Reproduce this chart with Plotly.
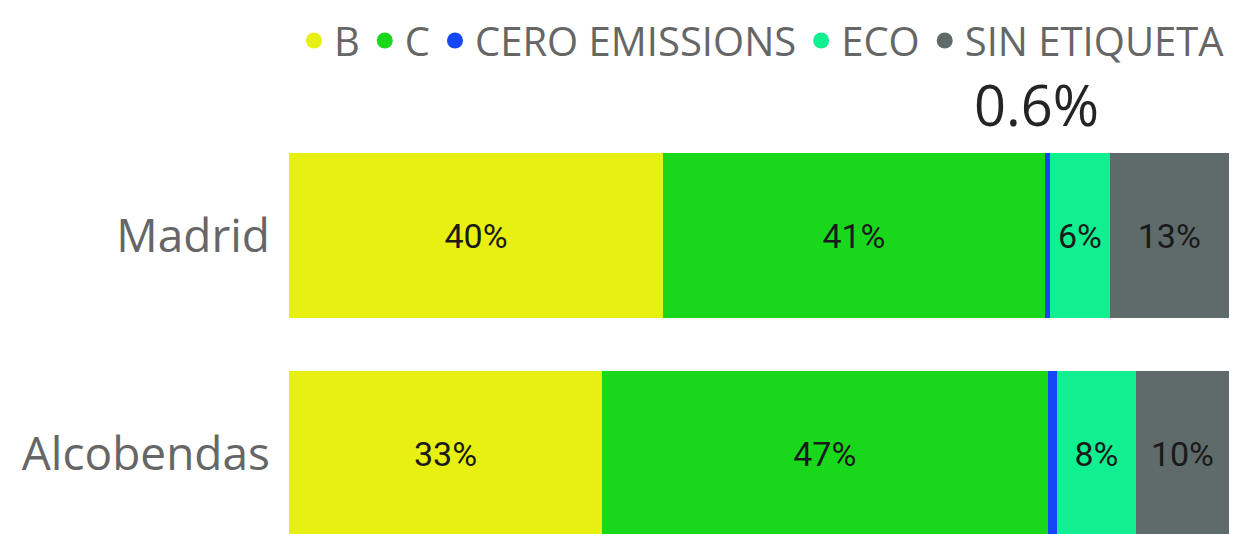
import plotly.graph_objects as go

cities = ["Alcobendas", "Madrid"]
series = ["B", "C", "CERO EMISSIONS", "ECO", "SIN ETIQUETA"]
colors = ["#E8F011", "#19D81C", "#1446F5", "#10F090", "#5F6A6A"]
values = {
    "B": [33.3, 39.8],
    "C": [47.4, 40.6],
    "CERO EMISSIONS": [1.0, 0.6],
    "ECO": [8.4, 6.3],
    "SIN ETIQUETA": [9.9, 12.7],
}
callout_city = "Madrid"
callout_series = "CERO EMISSIONS"

fig = go.Figure()
for s, c in zip(series, colors):
    vals = values[s]
    texts = ["" if s == "CERO EMISSIONS" else f"{round(v)}%" for v in vals]
    fig.add_trace(go.Bar(
        y=cities, x=vals, name=s, orientation="h",
        marker=dict(color=c, line=dict(width=0)),
        text=texts, textposition="inside", insidetextanchor="middle",
        textangle=0,
        textfont=dict(family="Roboto", size=34, color="#1a1a1a"),
        width=0.757, showlegend=False, hoverinfo="skip",
    ))
    fig.add_trace(go.Scatter(
        x=[None], y=[None], mode="markers", name=s,
        marker=dict(symbol="circle", size=18, color=c),
        showlegend=True,
    ))

idx = cities.index(callout_city)
before = sum(values[s][idx] for s in series[:series.index(callout_series)])
cx = before + values[callout_series][idx] / 2
fig.add_annotation(
    x=cx, y=callout_city, xref="x", yref="y",
    text=f"{values[callout_series][idx]}%", showarrow=False,
    xanchor="center", yanchor="bottom", yshift=92, xshift=-11,
    font=dict(family="Open Sans", size=56, color="#252423"),
)

# page body has an 8px default margin; compensate so the figure fills 1243x534
fig.update_layout(
    width=1235, height=526,
    margin=dict(l=281, r=14, t=132, b=0, autoexpand=False),
    barmode="stack",
    plot_bgcolor="white", paper_bgcolor="white",
    legend=dict(
        orientation="h", x=1.001, xanchor="right", y=1.335, yanchor="top",
        traceorder="normal",
        font=dict(family="Open Sans", size=40, color="#666666"),
        itemwidth=30, tracegroupgap=0, bgcolor="rgba(0,0,0,0)",
    ),
    xaxis=dict(range=[0, 100], visible=False, fixedrange=True),
    yaxis=dict(
        categoryorder="array", categoryarray=cities,
        range=[-0.369, 1.438], showgrid=False, zeroline=False,
        showline=False, ticks="", ticklabelstandoff=18,
        tickfont=dict(family="Open Sans", size=46, color="#666666"),
    ),
)

fig.write_html("out.html")
